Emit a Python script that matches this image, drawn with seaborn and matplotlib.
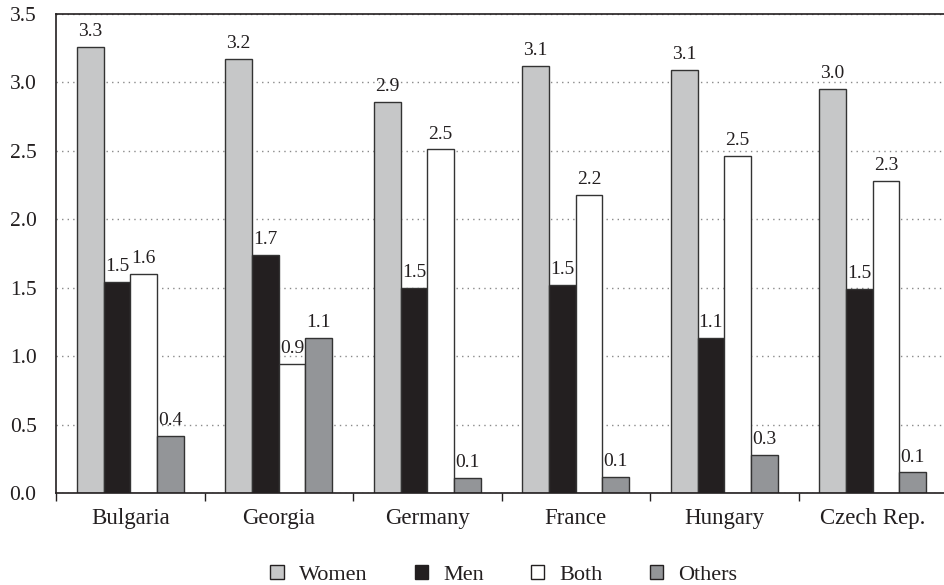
import pandas as pd
import matplotlib.pyplot as plt
import seaborn as sns

sns.set_theme(style='white')
plt.rcParams['font.family'] = ['Liberation Serif', 'DejaVu Serif']

countries = ['Bulgaria', 'Georgia', 'Germany', 'France', 'Hungary', 'Czech Rep.']
series = ['Women', 'Men', 'Both', 'Others']
women = [3.26, 3.17, 2.86, 3.12, 3.09, 2.95]
men = [1.54, 1.74, 1.50, 1.52, 1.13, 1.49]
both = [1.60, 0.94, 2.51, 2.18, 2.46, 2.28]
others = [0.42, 1.13, 0.11, 0.12, 0.28, 0.15]

colors = ['#c6c7c8', '#231f20', '#ffffff', '#939598']

rows = []
for name, vals in zip(series, [women, men, both, others]):
    for c, v in zip(countries, vals):
        rows.append({'country': c, 'group': name, 'value': v})
df = pd.DataFrame(rows)

fig = plt.figure(figsize=(9.45, 5.85), dpi=100)
ax = fig.add_axes([56 / 945, 92 / 585, 891 / 945, 479 / 585])

sns.barplot(data=df, x='country', y='value', hue='group', hue_order=series,
            palette=colors, width=0.72, gap=0, edgecolor='#333333',
            linewidth=1, saturation=1, ax=ax, legend=True)

for cont in ax.containers:
    ax.bar_label(cont, fmt='%.1f', padding=5, fontsize=14, color='#231f20')

ax.set_ylim(0, 3.5)
ax.set_xlim(-0.5, 5.5)
ax.set_yticks([0, 0.5, 1.0, 1.5, 2.0, 2.5, 3.0, 3.5])
ax.set_yticklabels(['0.0', '0.5', '1.0', '1.5', '2.0', '2.5', '3.0', '3.5'])
ax.set_xticks([i - 0.5 for i in range(7)], minor=True)
ax.tick_params(axis='x', which='major', length=0, pad=11, labelsize=16.5, labelcolor='#231f20')
ax.tick_params(axis='x', which='minor', length=6, width=1, color='#231f20', direction='out', bottom=True)
ax.tick_params(axis='y', length=0, pad=14, labelsize=15.5, labelcolor='#231f20')

ax.set_axisbelow(True)
ax.yaxis.grid(True, linestyle=(0, (1, 3)), color='#8a8a8a', linewidth=1)
ax.xaxis.grid(False)
for s in ['left', 'top', 'bottom']:
    ax.spines[s].set_visible(True)
    ax.spines[s].set_color('#231f20')
    ax.spines[s].set_linewidth(1.2)
ax.spines['right'].set_visible(False)

ax.set_xlabel('')
ax.set_ylabel('')

handles, labels = ax.get_legend_handles_labels()
for h in handles:
    h.set_edgecolor('#231f20')
ax.get_legend().remove()
fig.legend(handles, labels, loc='center', bbox_to_anchor=(504 / 945, 10 / 585),
           ncol=4, frameon=False, fontsize=16, handlelength=0.6, handleheight=0.6,
           handletextpad=0.7, columnspacing=2.1, labelcolor='#231f20')

plt.savefig('out.png', dpi=100)
